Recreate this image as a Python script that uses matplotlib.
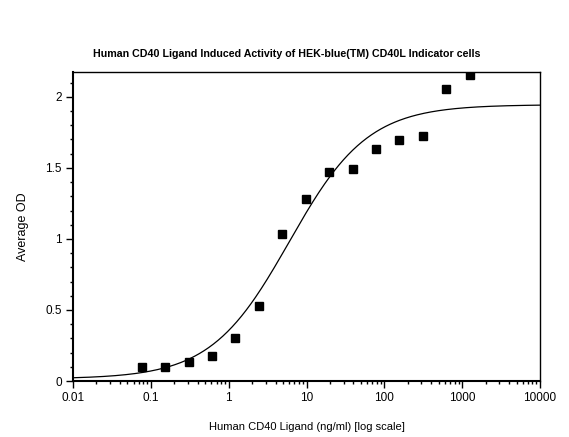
import numpy as np
import matplotlib
matplotlib.use("Agg")
import matplotlib.pyplot as plt
from matplotlib.ticker import FixedLocator, MultipleLocator, LogLocator, NullFormatter

# ---- data ----
concentration = [0.0763, 0.153, 0.305, 0.61, 1.22, 2.44, 4.88, 9.77, 19.5,
                 39.1, 78.1, 156, 312, 625, 1250]
average_od = [0.101, 0.101, 0.133, 0.175, 0.30, 0.529, 1.036, 1.282, 1.47,
              1.495, 1.635, 1.694, 1.726, 2.054, 2.155]
# 4-parameter logistic fit parameters (bottom, top, EC50, hill)
fit_bottom = 0.015
fit_top = 1.945
fit_ec50 = 6.0
fit_hill = 0.86

x_ticks = [0.01, 0.1, 1, 10, 100, 1000, 10000]
x_tick_labels = ["0.01", "0.1", "1", "10", "100", "1000", "10000"]
y_ticks = [0, 0.5, 1, 1.5, 2]
y_tick_labels = ["0", "0.5", "1", "1.5", "2"]

title = "Human CD40 Ligand Induced Activity of HEK-blue(TM) CD40L Indicator cells"
xlabel = "Human CD40 Ligand (ng/ml) [log scale]"
ylabel = "Average OD"

plt.rcParams["font.family"] = ["Liberation Sans", "DejaVu Sans"]

fig = plt.figure(figsize=(5.69, 4.37), dpi=100)
ax = fig.add_axes([73/569, 1-381/437, (540-73)/569, (381-72)/437])

xc = np.logspace(-2, 4, 400)
yc = fit_bottom + (fit_top - fit_bottom) / (1 + (fit_ec50 / xc) ** fit_hill)
ax.plot(xc, yc, color="black", lw=0.9)
ax.plot(concentration, average_od, linestyle="none", marker="s", color="black", markersize=5.2)

ax.set_xscale("log")
ax.set_xlim(0.01, 10000)
ax.set_ylim(0, 2.175)
ax.xaxis.set_major_locator(FixedLocator(x_ticks))
ax.set_xticklabels(x_tick_labels)
ax.xaxis.set_minor_locator(LogLocator(base=10, subs=np.arange(2, 10)))
ax.xaxis.set_minor_formatter(NullFormatter())
ax.yaxis.set_major_locator(FixedLocator(y_ticks))
ax.set_yticklabels(y_tick_labels)
ax.yaxis.set_minor_locator(MultipleLocator(0.1))

ax.tick_params(which="both", direction="out", top=False, right=False, color="black", width=1)
ax.tick_params(which="major", length=5, labelsize=8.5, pad=3)
ax.tick_params(which="minor", length=2.5)
for s in ax.spines.values():
    s.set_linewidth(1)
ax.spines["left"].set_linewidth(1.5)
ax.spines["bottom"].set_linewidth(1.5)

fig.text(287/569, 1-54/437, title, fontsize=7.7, fontweight="bold", ha="center", va="center")
ax.set_xlabel(xlabel, fontsize=8, labelpad=13)
ax.set_ylabel(ylabel, fontsize=9, labelpad=12)

fig.savefig("out.png", dpi=100)
